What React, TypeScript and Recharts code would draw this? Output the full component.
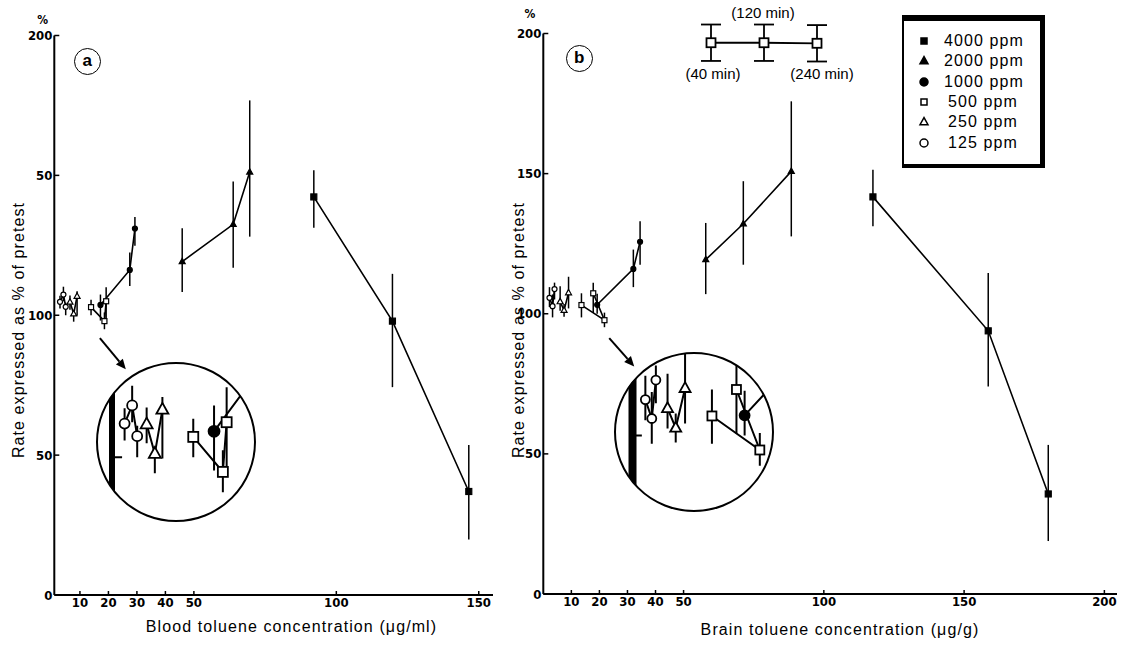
import React from "react";
import { LineChart, Line, XAxis, YAxis, ErrorBar, ReferenceLine, LabelList } from "recharts";

// dose groups, in legend order
const doseNames = ["4000 ppm", "2000 ppm", "1000 ppm", "500 ppm", "250 ppm", "125 ppm"];
const doseKinds = ["square", "triangle", "circle", "square", "triangle", "circle"];
const doseFilled = [true, true, true, false, false, false];

// panel a: blood toluene (µg/ml) -> rate as % of pretest (40, 120, 240 min)
const aX4000 = [92.1, 119.7, 146.5];
const aY4000 = [142.3, 97.9, 37.0];
const aLo4000 = [131.3, 74.3, 19.8];
const aHi4000 = [151.8, 114.8, 53.6];
const aX2000 = [45.9, 63.8, 69.6];
const aY2000 = [119.2, 132.5, 151.2];
const aLo2000 = [108.3, 117.0, 128.1];
const aHi2000 = [131.1, 147.8, 176.8];
const aX1000 = [17.2, 27.5, 29.3];
const aY1000 = [103.7, 116.2, 131.0];
const aLo1000 = [98.1, 110.5, 124.8];
const aHi1000 = [107.4, 122.4, 135.1];
const aX500 = [13.9, 18.6, 19.2];
const aY500 = [102.9, 97.9, 105.0];
const aLo500 = [100.0, 95.0, 97.7];
const aHi500 = [105.5, 101.0, 110.0];
const aX250 = [6.5, 7.8, 9.0];
const aY250 = [104.7, 100.5, 106.8];
const aLo250 = [102.0, 97.7, 99.8];
const aHi250 = [107.1, 101.4, 108.6];
const aX125 = [3.0, 4.2, 5.0];
const aY125 = [104.8, 107.4, 103.0];
const aLo125 = [102.4, 105.0, 100.0];
const aHi125 = [107.0, 110.2, 104.5];

// panel b: brain toluene (µg/g)
const bX4000 = [117.5, 158.6, 180.0];
const bY4000 = [141.7, 93.9, 35.7];
const bLo4000 = [131.2, 74.0, 18.9];
const bHi4000 = [151.4, 114.5, 53.2];
const bX2000 = [57.9, 71.3, 88.4];
const bY2000 = [119.3, 132.1, 150.8];
const bLo2000 = [107.0, 117.5, 127.6];
const bHi2000 = [132.4, 147.3, 175.8];
const bX1000 = [19.2, 32.1, 34.5];
const bY1000 = [103.2, 116.0, 125.7];
const bLo1000 = [100.0, 109.5, 117.5];
const bHi1000 = [107.1, 122.9, 133.0];
const bX500 = [13.6, 21.8, 17.8];
const bY500 = [103.1, 97.7, 107.3];
const bLo500 = [98.7, 95.2, 100.3];
const bHi500 = [107.3, 100.4, 111.1];
const bX250 = [6.0, 7.4, 9.0];
const bY250 = [104.3, 101.2, 107.5];
const bLo250 = [101.1, 98.9, 101.9];
const bHi250 = [109.8, 103.5, 113.2];
const bX125 = [2.2, 3.3, 4.0];
const bY125 = [105.7, 102.7, 108.8];
const bLo125 = [102.4, 98.7, 105.1];
const bHi125 = [109.5, 106.9, 111.1];

// axes
const aXTicks = [10, 20, 30, 40, 50, 100, 150];
const bXTicks = [10, 20, 30, 40, 50, 100, 150, 200];
const yTicks = [0, 50, 100, 150, 200];
const aYTickLabels = ["0", "50", "100", "50", "200"];
const bYTickLabels = ["0", "50", "100", "150", "200"];

// arrows pointing at the magnified insets
const aArrowX = [17.0, 26.1];
const aArrowY = [91.8, 80.7];
const bArrowX = [23.5, 32.4];
const bArrowY = [91.3, 81.2];

// time key above panel b
const keyTimes = ["(40 min)", "(120 min)", "(240 min)"];
const keyRate = [100, 100, 99.8];
const keyErr = [6.5, 6.5, 6.5];

const FONT = '"Liberation Sans", Arial, sans-serif';
const NUM_FONT = '"DejaVu Sans Condensed", "DejaVu Sans", sans-serif';
const numTick = { fill: "#000", fontFamily: NUM_FONT, fontWeight: 700, fontSize: 13, fontStretch: "condensed" };

type Pt = { x: number; y: number; err: [number, number] };

const build = (xs: number[], ys: number[], lo: number[], hi: number[]): Pt[] =>
  xs.map((x, i) => ({ x, y: ys[i], err: [ys[i] - lo[i], hi[i] - ys[i]] }));

const aSeries = [
  build(aX4000, aY4000, aLo4000, aHi4000),
  build(aX2000, aY2000, aLo2000, aHi2000),
  build(aX1000, aY1000, aLo1000, aHi1000),
  build(aX500, aY500, aLo500, aHi500),
  build(aX250, aY250, aLo250, aHi250),
  build(aX125, aY125, aLo125, aHi125),
];
const bSeries = [
  build(bX4000, bY4000, bLo4000, bHi4000),
  build(bX2000, bY2000, bLo2000, bHi2000),
  build(bX1000, bY1000, bLo1000, bHi1000),
  build(bX500, bY500, bLo500, bHi500),
  build(bX250, bY250, bLo250, bHi250),
  build(bX125, bY125, bLo125, bHi125),
];

function marker(kind: string, filled: boolean, cx: number, cy: number, s: number, sw: number, key?: string) {
  const fill = filled ? "#000" : "#fff";
  if (cx == null || cy == null || isNaN(cx) || isNaN(cy)) return <g key={key} />;
  if (kind === "square")
    return <rect key={key} x={cx - s / 2} y={cy - s / 2} width={s} height={s} fill={fill} stroke="#000" strokeWidth={sw} />;
  if (kind === "triangle") {
    const h = s * 0.9;
    return (
      <polygon
        key={key}
        points={`${cx},${cy - h * 0.62} ${cx - s / 2},${cy + h * 0.38} ${cx + s / 2},${cy + h * 0.38}`}
        fill={fill}
        stroke="#000"
        strokeWidth={sw}
      />
    );
  }
  return <circle key={key} cx={cx} cy={cy} r={s / 2} fill={fill} stroke="#000" strokeWidth={sw} />;
}

const Arrow = (p: any) => {
  const { x1, y1, x2, y2 } = p;
  const ang = Math.atan2(y2 - y1, x2 - x1);
  const L = 10, W = 4.5;
  const bx = x2 - L * Math.cos(ang), by = y2 - L * Math.sin(ang);
  const px = -Math.sin(ang) * W, py = Math.cos(ang) * W;
  return (
    <g>
      <line x1={x1} y1={y1} x2={bx} y2={by} stroke="#000" strokeWidth={2} />
      <polygon points={`${x2},${y2} ${bx + px},${by + py} ${bx - px},${by - py}`} fill="#000" />
    </g>
  );
};

const mainSizes = [6, 6, 5, 5, 6, 5];

function Panel(props: {
  left: number; width: number; margin: any; xDomain: number[]; xTicks: number[];
  yLabels: string[]; series: Pt[][]; arrowX: number[]; arrowY: number[];
}) {
  const { left, width, margin, xDomain, xTicks, yLabels, series, arrowX, arrowY } = props;
  return (
    <div style={{ position: "absolute", left, top: 0 }}>
      <LineChart width={width} height={646} margin={margin}>
        <XAxis
          type="number"
          dataKey="x"
          domain={xDomain}
          ticks={xTicks}
          interval={0}
          allowDataOverflow
          height={30}
          tickSize={-4}
          tickMargin={7}
          axisLine={{ stroke: "#000", strokeWidth: 2 }}
          tickLine={{ stroke: "#000", strokeWidth: 1.5 }}
          tick={numTick}
        />
        <YAxis
          type="number"
          domain={[0, 200]}
          ticks={yTicks}
          interval={0}
          allowDataOverflow
          width={40}
          tickSize={-5}
          tickMargin={7}
          tickFormatter={(v: number) => yLabels[yTicks.indexOf(v)]}
          axisLine={{ stroke: "#000", strokeWidth: 2 }}
          tickLine={{ stroke: "#000", strokeWidth: 1.5 }}
          tick={numTick}
        />
        {series.map((data, k) => (
          <Line
            key={doseNames[k]}
            data={data}
            dataKey="y"
            type="linear"
            stroke="#000"
            strokeWidth={1.6}
            isAnimationActive={false}
            activeDot={false}
            dot={(p: any) => marker(doseKinds[k], doseFilled[k], p.cx, p.cy, mainSizes[k], 1.2, `${k}-${p.index}`)}
          >
            <ErrorBar dataKey="err" direction="y" width={0} stroke="#000" strokeWidth={1.5} isAnimationActive={false} />
          </Line>
        ))}
        <ReferenceLine
          segment={[{ x: arrowX[0], y: arrowY[0] }, { x: arrowX[1], y: arrowY[1] }]}
          shape={Arrow}
          ifOverflow="visible"
        />
      </LineChart>
    </div>
  );
}

function Inset(props: {
  cx: number; cy: number; xDomain: number[]; yDomain: number[]; series: Pt[][];
  axisX: number; axisW: number; tickLen: number; sizes: number[];
}) {
  const { cx, cy, xDomain, yDomain, series, axisX, axisW, tickLen, sizes } = props;
  const R = 80;
  return (
    <>
      <div
        style={{
          position: "absolute", left: cx - R, top: cy - R, width: 2 * R, height: 2 * R,
          clipPath: `circle(${R - 1}px at ${R}px ${R}px)`, background: "#fff",
        }}
      >
        <LineChart width={2 * R} height={2 * R} margin={{ top: 0, right: 0, bottom: 0, left: 0 }}>
          <XAxis hide type="number" dataKey="x" domain={xDomain} allowDataOverflow />
          <YAxis hide type="number" domain={yDomain} allowDataOverflow />
          <ReferenceLine x={axisX} stroke="#000" strokeWidth={axisW} ifOverflow="visible" />
          <ReferenceLine
            segment={[{ x: axisX, y: 100 }, { x: axisX + tickLen, y: 100 }]}
            stroke="#000"
            strokeWidth={2}
            ifOverflow="visible"
          />
          {series.map((data, k) => (
            <Line
              key={doseNames[k]}
              data={data}
              dataKey="y"
              type="linear"
              stroke="#000"
              strokeWidth={2}
              isAnimationActive={false}
              activeDot={false}
              dot={(p: any) => marker(doseKinds[k], doseFilled[k], p.cx, p.cy, sizes[k], 1.8, `${k}-${p.index}`)}
            >
              <ErrorBar dataKey="err" direction="y" width={0} stroke="#000" strokeWidth={2} isAnimationActive={false} />
            </Line>
          ))}
        </LineChart>
      </div>
      <div
        style={{
          position: "absolute", left: cx - R, top: cy - R, width: 2 * R, height: 2 * R,
          border: "2px solid #000", borderRadius: "50%", boxSizing: "border-box",
        }}
      />
    </>
  );
}

function TimeKey() {
  const data = keyTimes.map((t, i) => ({ x: i, y: keyRate[i], err: keyErr[i], label: t }));
  return (
    <div style={{ position: "absolute", left: 661, top: 0 }}>
      <LineChart width={206} height={84} margin={{ top: 0, right: 50, bottom: 4, left: 50 }}>
        <XAxis hide type="number" dataKey="x" domain={[0, 2]} />
        <YAxis hide type="number" domain={[86.7, 115.25]} allowDataOverflow />
        <Line
          data={data}
          dataKey="y"
          type="linear"
          stroke="#000"
          strokeWidth={1.8}
          isAnimationActive={false}
          activeDot={false}
          dot={(p: any) => marker("square", false, p.cx, p.cy, 9, 1.8, `k-${p.index}`)}
        >
          <ErrorBar dataKey="err" direction="y" width={10} stroke="#000" strokeWidth={1.8} isAnimationActive={false} />
          <LabelList
            dataKey="label"
            content={(p: any) => (
              <text
                key={`l-${p.index}`}
                x={p.x + (p.index === 0 ? 2 : p.index === 2 ? 5 : -1)}
                y={p.index === 1 ? p.y - 25 : p.y + 36}
                textAnchor="middle"
                fontFamily={FONT}
                fontSize={15}
                fill="#000"
              >
                {p.value}
              </text>
            )}
          />
        </Line>
      </LineChart>
    </div>
  );
}

function LegendBox() {
  return (
    <div
      style={{
        position: "absolute", left: 902, top: 15, width: 143, height: 153, boxSizing: "border-box",
        borderStyle: "solid", borderColor: "#000", borderTopWidth: 6, borderRightWidth: 5,
        borderBottomWidth: 4, borderLeftWidth: 2, paddingTop: 10, background: "#fff",
      }}
    >
      {doseNames.map((name, k) => (
        <div key={name} style={{ display: "flex", alignItems: "center", height: 20.3 }}>
          <svg width={40} height={14} style={{ flex: "none" }}>
            {marker(doseKinds[k], doseFilled[k], 20, 7, doseKinds[k] === "square" ? 6 : 8, 1.5)}
          </svg>
          <span
            style={{
              flex: 1, textAlign: "right", paddingRight: 22, fontFamily: FONT, fontSize: 16,
              letterSpacing: 1.1, color: "#000", lineHeight: "20px", whiteSpace: "nowrap",
            }}
          >
            {name}
          </span>
        </div>
      ))}
    </div>
  );
}

const text = (s: string, x: number, y: number, extra: any = {}) => (
  <div
    style={{
      position: "absolute", left: x, top: y, transform: "translate(-50%, -50%)" + (extra.rot ? " rotate(-90deg)" : ""),
      whiteSpace: "nowrap", fontFamily: extra.font || FONT, fontSize: extra.size || 16,
      fontWeight: extra.bold ? 700 : 400, letterSpacing: extra.ls ?? 1.1, color: "#000", lineHeight: 1,
      fontStretch: extra.stretch || "normal",
    }}
  >
    {s}
  </div>
);

const circled = (s: string, x: number, y: number) => (
  <div
    style={{
      position: "absolute", left: x - 13.5, top: y - 13.5, width: 27, height: 27, boxSizing: "border-box",
      border: "1.8px solid #000", borderRadius: "50%", display: "flex", alignItems: "center",
      justifyContent: "center", fontFamily: FONT, fontWeight: 700, fontSize: 17, lineHeight: 1,
    }}
  >
    <span style={{ marginTop: -2 }}>{s}</span>
  </div>
);

export default function App() {
  return (
    <div style={{ position: "absolute", left: 0, top: 0, width: 1129, height: 646, background: "#fff", overflow: "hidden" }}>
      <Panel
        left={0}
        width={540}
        margin={{ top: 35.5, right: 47, bottom: 21, left: 14.3 }}
        xDomain={[1, 155]}
        xTicks={aXTicks}
        yLabels={aYTickLabels}
        series={aSeries}
        arrowX={aArrowX}
        arrowY={aArrowY}
      />
      <Panel
        left={500}
        width={629}
        margin={{ top: 33.5, right: 12, bottom: 22, left: 3.3 }}
        xDomain={[0, 204.5]}
        xTicks={bXTicks}
        yLabels={bYTickLabels}
        series={bSeries}
        arrowX={bArrowX}
        arrowY={bArrowY}
      />
      <Inset cx={176} cy={441.5} xDomain={[-1.54, 23.86]} yDomain={[90.74, 113.6]} series={aSeries}
        axisX={1} axisW={6} tickLen={1.6} sizes={[10, 12, 11, 10, 12, 10]} />
      <Inset cx={693.5} cy={431.5} xDomain={[-3.17, 24.23]} yDomain={[87.86, 113.25]} series={bSeries}
        axisX={0} axisW={8} tickLen={1.6} sizes={[9, 11, 10, 9, 11, 9]} />
      <TimeKey />
      <LegendBox />
      {circled("a", 87.3, 61)}
      {circled("b", 579.3, 58.3)}
      {text("%", 42.7, 20, { bold: true, size: 12, font: NUM_FONT, ls: 0, stretch: "condensed" })}
      {text("%", 530, 14, { bold: true, size: 12, font: NUM_FONT, ls: 0, stretch: "condensed" })}
      {text("Blood toluene concentration (\u03bcg/ml)", 291.5, 627)}
      {text("Brain toluene concentration (\u03bcg/g)", 840, 630)}
      {text("Rate expressed as % of pretest", 19, 330, { rot: true })}
      {text("Rate expressed as % of pretest", 519, 330, { rot: true })}
    </div>
  );
}
